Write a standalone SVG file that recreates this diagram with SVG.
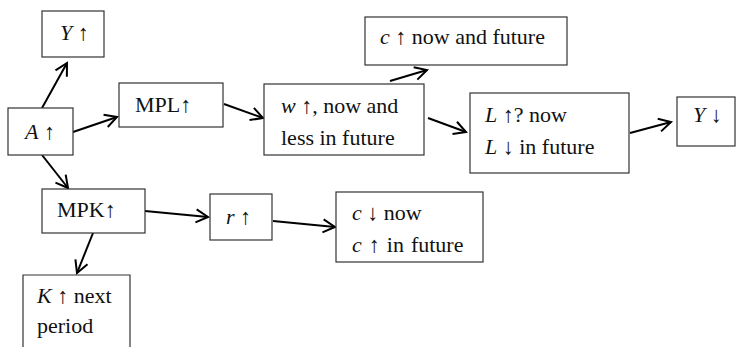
<svg xmlns="http://www.w3.org/2000/svg" width="736" height="347" viewBox="0 0 736 347">
<style>
.box{fill:#fff;stroke:#333;stroke-width:1.2}
.i{font-style:italic}
.c{stroke:#000;stroke-width:2;fill:none}
</style>
<defs>
<marker id="ah" markerUnits="userSpaceOnUse" markerWidth="16" markerHeight="16" refX="13" refY="8" orient="auto">
<path d="M1,1.5 L13,8 L1,14.5" fill="none" stroke="#000" stroke-width="2"/>
</marker>
</defs>
<rect width="736" height="347" fill="#fff"/>
<g id="connectors">
<line class="c" x1="42" y1="108" x2="67" y2="63" marker-end="url(#ah)"/>
<line class="c" x1="73" y1="132" x2="117" y2="117" marker-end="url(#ah)"/>
<line class="c" x1="42" y1="155" x2="68" y2="188" marker-end="url(#ah)"/>
<line class="c" x1="224" y1="104" x2="263" y2="118" marker-end="url(#ah)"/>
<line class="c" x1="390" y1="81" x2="427" y2="70" marker-end="url(#ah)"/>
<line class="c" x1="428" y1="118" x2="466" y2="132" marker-end="url(#ah)"/>
<line class="c" x1="630" y1="133" x2="671" y2="122" marker-end="url(#ah)"/>
<line class="c" x1="145" y1="211" x2="208" y2="217" marker-end="url(#ah)"/>
<line class="c" x1="273" y1="221" x2="335" y2="227" marker-end="url(#ah)"/>
<line class="c" x1="93" y1="233" x2="77" y2="273" marker-end="url(#ah)"/>
</g>
<g font-family="'Liberation Serif', 'Times New Roman', serif" font-size="22" fill="#111">
<g id="Yup"><rect class="box" x="42" y="11" width="62" height="46"/><text x="60" y="40"><tspan class="i">Y</tspan> ↑</text></g>
<g id="Aup"><rect class="box" x="8" y="108" width="65" height="47"/><text x="25" y="139"><tspan class="i">A</tspan> ↑</text></g>
<g id="MPL"><rect class="box" x="119" y="83" width="104" height="44"/><text x="135" y="112">MPL↑</text></g>
<g id="wage"><rect class="box" x="264" y="84" width="160" height="71"/><text x="281" y="113"><tspan class="i">w</tspan> ↑, now and</text><text x="281" y="145">less in future</text></g>
<g id="cnow"><rect class="box" x="365" y="17" width="202" height="48"/><text x="380" y="44"><tspan class="i">c</tspan> ↑ now and future</text></g>
<g id="labor"><rect class="box" x="470" y="93" width="159" height="80"/><text x="485" y="122"><tspan class="i">L</tspan> ↑? now</text><text x="485" y="154"><tspan class="i">L</tspan> ↓ in future</text></g>
<g id="Ydown"><rect class="box" x="677" y="97" width="58" height="49"/><text x="693" y="122"><tspan class="i">Y</tspan> ↓</text></g>
<g id="MPK"><rect class="box" x="42" y="189" width="103" height="44"/><text x="57" y="217">MPK↑</text></g>
<g id="rup"><rect class="box" x="210" y="194" width="62" height="46"/><text x="226" y="224"><tspan class="i">r</tspan> ↑</text></g>
<g id="cdown"><rect class="box" x="336" y="192" width="147" height="70"/><text x="352" y="220"><tspan class="i">c</tspan> ↓ now</text><text x="352" y="252" word-spacing="1.5"><tspan class="i">c</tspan> ↑ in future</text></g>
<g id="Kup"><path class="box" d="M23,348 V275 H130 V348"/><text x="37" y="303"><tspan class="i">K</tspan> ↑ next</text><text x="37" y="333">period</text></g>
</g>
</svg>
